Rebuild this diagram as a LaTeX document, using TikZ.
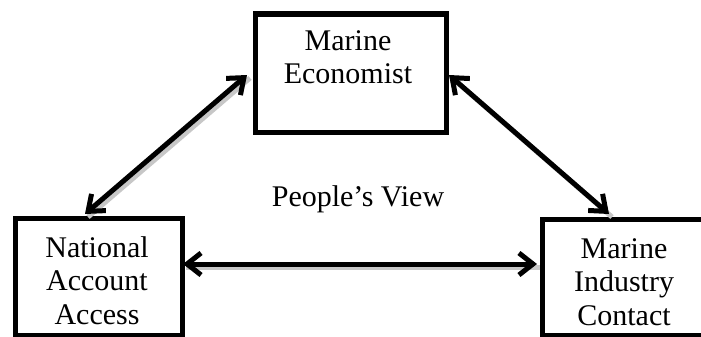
\documentclass[tikz,border=0pt]{standalone}
\usepackage{fontspec}
\setmainfont{Liberation Serif}
\usetikzlibrary{arrows.meta}
\begin{document}
\begin{tikzpicture}[x=1pt,y=-1pt,
  box/.style={draw=black, line width=5.5pt, fill=white},
  boxshadow/.style={fill=black!25},
  lbl/.style={font=\fontsize{30}{33.5}\selectfont, align=center, inner sep=0pt, anchor=north},
  tip/.style={Straight Barb[length=14pt,width=22pt,line width=5pt]},
  link/.style={line width=5pt, {Straight Barb[length=14pt,width=22pt,line width=5pt]}-{Straight Barb[length=14pt,width=22pt,line width=5pt]}},
  linkshadow/.style={line width=5pt, draw=black!22}]
\useasboundingbox (0,0) rectangle (701,337);
\clip (0,0) rectangle (701,337);
% shadows
\fill[boxshadow] (255.5,14.5) rectangle (446.5,135);
\fill[boxshadow] (15.5,220.5) rectangle (185,340);
\fill[boxshadow] (543,219.5) rectangle (720,340);
% boxes
\node[box, minimum width=191pt, minimum height=118pt, inner sep=0pt, anchor=north west] (top) at (252.5,11.5) {};
\node[box, minimum width=167pt, minimum height=117pt, inner sep=0pt, anchor=north west] (left) at (12.5,215.5) {};
\node[box, minimum width=172pt, minimum height=116pt, inner sep=0pt, anchor=north west] (right) at (539.5,216.5) {};
% texts
\node[lbl] (ttop) at (348,30) {Marine\\Economist};
\node[lbl] (tleft) at (97,236) {National\\Account\\Access};
\node[lbl] (tright) at (624,238) {Marine\\Industry\\Contact};
\node[lbl, anchor=center] (view) at (358,199) {People’s View};
% connector endpoints
\coordinate (a1) at (247,75);
\coordinate (a2) at (85,214);
\coordinate (b1) at (449,75);
\coordinate (b2) at (609,214);
\coordinate (c1) at (183,264);
\coordinate (c2) at (537,264);
% arrow shadows
\draw[linkshadow] ([shift={(3,3)}]a1) -- ([shift={(3,3)}]a2);
\draw[linkshadow] ([shift={(3,3)}]b1) -- ([shift={(3,3)}]b2);
\draw[linkshadow] ([shift={(3,3)}]c1) -- ([shift={(3,3)}]c2);
% arrows
\draw[link] (a1) -- (a2);
\draw[link] (b1) -- (b2);
\draw[link] (c1) -- (c2);
\end{tikzpicture}
\end{document}
